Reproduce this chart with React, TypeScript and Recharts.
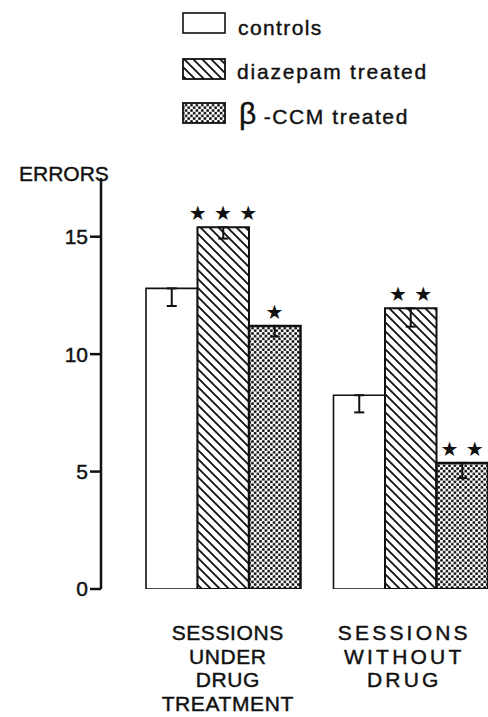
import React from 'react';
import { BarChart, Bar, XAxis, YAxis, ErrorBar, LabelList } from 'recharts';

const FONT = '"Liberation Sans", Arial, Helvetica, sans-serif';
const INK = '#111';

// values
const categories = ['under drug', 'without drug'];
const categoryLines = [
  ['SESSIONS', 'UNDER', 'DRUG', 'TREATMENT'],
  ['SESSIONS', 'WITHOUT', 'DRUG'],
];
const controls = [12.8, 8.25];
const controlsErr = [0.75, 0.73];
const diazepam = [15.4, 11.95];
const diazepamErr = [0.48, 0.78];
const betaCcm = [11.2, 5.37];
const betaCcmErr = [0.45, 0.65];
const diazepamStars = ['★ ★ ★', '★ ★'];
const betaCcmStars = ['★', '★ ★'];
const yTicks = [0, 5, 10, 15];

const data = categories.map((name, i) => ({
  name,
  controls: controls[i],
  controlsErr: [controlsErr[i], 0],
  diazepam: diazepam[i],
  diazepamErr: [diazepamErr[i], 0],
  diazepamStars: diazepamStars[i],
  betaCcm: betaCcm[i],
  betaCcmErr: [betaCcmErr[i], 0],
  betaCcmStars: betaCcmStars[i],
}));

function Patterns({ prefix }: { prefix: string }) {
  return (
    <defs>
      <pattern id={`${prefix}-hatch`} patternUnits="userSpaceOnUse" width={9} height={9}>
        <rect width={9} height={9} fill="#fff" />
        <path d="M0,0 L9,9 M-3,6 L3,12 M6,-3 L12,3" stroke={INK} strokeWidth={1.8} />
      </pattern>
      <pattern id={`${prefix}-dots`} patternUnits="userSpaceOnUse" width={5.4} height={5.4}>
        <rect width={5.4} height={5.4} fill="#fff" />
        <circle cx={1.35} cy={1.35} r={1.45} fill={INK} />
        <circle cx={4.05} cy={4.05} r={1.45} fill={INK} />
      </pattern>
    </defs>
  );
}

const labelSpacing = [0.6, 3.2];
const labelShift = [5, -6];

function CategoryTick(props: any) {
  const { x, y, payload } = props;
  const idx = categories.indexOf(payload.value);
  const lines = categoryLines[idx] || [];
  return (
    <g>
      {lines.map((line, i) => (
        <text
          key={i}
          x={x + labelShift[idx]}
          y={y + 51 + i * 23.5}
          textAnchor="middle"
          fontFamily={FONT}
          fontSize={21}
          letterSpacing={labelSpacing[idx]}
          fill={INK}
          stroke={INK}
          strokeWidth={0.45}
        >
          {line}
        </text>
      ))}
    </g>
  );
}

function LegendSwatch({ top, fill, strokeWidth }: any) {
  return (
    <div style={{ position: 'absolute', left: 182, top }}>
      <svg width={45} height={24} style={{ display: 'block' }}>
        <Patterns prefix="lg" />
        <rect x={1} y={2} width={42} height={20} fill={fill} stroke={INK} strokeWidth={strokeWidth} />
      </svg>
    </div>
  );
}

const textStyle: React.CSSProperties = {
  position: 'absolute',
  fontFamily: FONT,
  fontSize: 21,
  color: INK,
  lineHeight: '26px',
  whiteSpace: 'nowrap',
  WebkitTextStroke: '0.4px #111',
};

export default function App() {
  return (
    <div style={{ position: 'fixed', left: 0, top: 0, width: 488, height: 717, overflow: 'hidden', background: '#fff' }}>
      <LegendSwatch top={11} fill="#fff" strokeWidth={1.6} />
      <LegendSwatch top={57} fill="url(#lg-hatch)" strokeWidth={1.8} />
      <LegendSwatch top={101} fill="url(#lg-dots)" strokeWidth={1.8} />
      <div style={{ ...textStyle, left: 238, top: 15, letterSpacing: 1.4 }}>controls</div>
      <div style={{ ...textStyle, left: 237, top: 59, letterSpacing: 1.8 }}>diazepam treated</div>
      <div style={{ ...textStyle, left: 239, top: 98, letterSpacing: 1.6, lineHeight: '32px' }}>
        <span style={{ fontSize: 30, letterSpacing: 0 }}>β</span> -CCM treated
      </div>
      <div style={{ ...textStyle, left: 19, top: 161 }}>ERRORS</div>

      <BarChart
        width={504}
        height={717}
        data={data}
        margin={{ top: 178, right: 0, left: 0, bottom: 0 }}
        barGap={0}
        barSize={51.5}
      >
        <Patterns prefix="ch" />
        <XAxis
          dataKey="name"
          axisLine={false}
          tickLine={false}
          tickSize={0}
          tickMargin={0}
          height={128}
          padding={{ left: 28, right: 0 }}
          tick={<CategoryTick />}
          interval={0}
        />
        <YAxis
          width={101}
          domain={[0, 17.5]}
          ticks={yTicks}
          allowDataOverflow
          axisLine={{ stroke: INK, strokeWidth: 2.5 }}
          tickLine={{ stroke: INK, strokeWidth: 2.5 }}
          tickSize={11}
          tickMargin={2}
          tick={{ fill: INK, fontSize: 21, fontFamily: FONT, stroke: INK, strokeWidth: 0.45 }}
        />
        <Bar dataKey="controls" fill="#fff" stroke={INK} strokeWidth={1.6} isAnimationActive={false}>
          <ErrorBar dataKey="controlsErr" direction="y" width={5} stroke={INK} strokeWidth={2} />
        </Bar>
        <Bar dataKey="diazepam" fill="url(#ch-hatch)" stroke={INK} strokeWidth={2} isAnimationActive={false}>
          <ErrorBar dataKey="diazepamErr" direction="y" width={5} stroke={INK} strokeWidth={2} />
          <LabelList dataKey="diazepamStars" position="top" offset={7} fill={INK} fontSize={20} fontFamily="DejaVu Sans" letterSpacing={0.5} />
        </Bar>
        <Bar dataKey="betaCcm" fill="url(#ch-dots)" stroke={INK} strokeWidth={2.5} isAnimationActive={false}>
          <ErrorBar dataKey="betaCcmErr" direction="y" width={5} stroke={INK} strokeWidth={2} />
          <LabelList dataKey="betaCcmStars" position="top" offset={7} fill={INK} fontSize={20} fontFamily="DejaVu Sans" letterSpacing={0.5} />
        </Bar>
      </BarChart>
    </div>
  );
}
